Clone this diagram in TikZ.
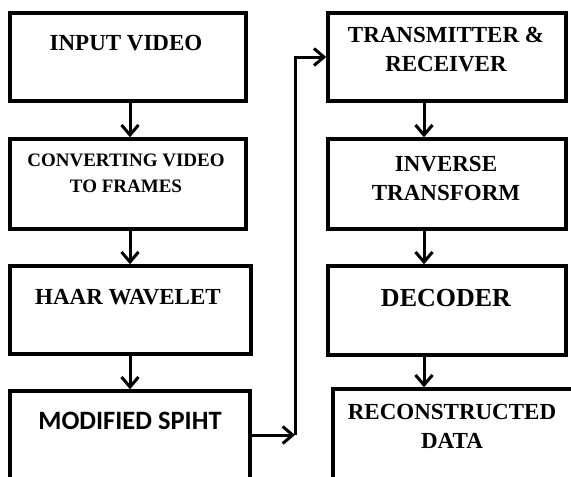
\documentclass[tikz,border=0pt]{standalone}
\usepackage{fontspec}
\setmainfont{Liberation Serif}
\newfontfamily\calfont{Carlito}
\usetikzlibrary{arrows.meta}
\begin{document}
\begin{tikzpicture}[x=1pt,y=-1pt,
  box/.style={draw, line width=3.4pt, inner sep=0pt},
  lbl/.style={font=\bfseries\fontsize{23}{29}\selectfont, align=center, inner sep=0pt},
  flow/.style={line width=3pt, -{Straight Barb[length=10pt,width=17pt]}}]
\useasboundingbox (0,0) rectangle (571,477);
\fill[white] (0,0) rectangle (571,477);
\clip (0,0) rectangle (571,477);

% left column: encoder side
\node[box, minimum width=236pt, minimum height=88pt] (b1) at (128,57) {};
\node[box, minimum width=236pt, minimum height=90pt] (b2) at (128,184) {};
\node[box, minimum width=241pt, minimum height=88pt] (b3) at (130.5,310) {};
\node[box, minimum width=240pt, minimum height=128pt] (b4) at (130,455) {};

\node[lbl] (b1t) at (126,43) {INPUT VIDEO};
\node[lbl, font=\bfseries\fontsize{19}{26}\selectfont] (b2t) at (126,173) {CONVERTING VIDEO\\TO FRAMES};
\node[lbl] (b3t) at (128,297) {HAAR WAVELET};
\node[lbl, font=\calfont\bfseries\fontsize{26.5}{30}\selectfont] (b4t) at (130,421) {MODIFIED SPIHT};

% right column: decoder side
\node[box, minimum width=238pt, minimum height=88pt] (t1) at (447,57) {};
\node[box, minimum width=238pt, minimum height=90pt] (t2) at (447,184) {};
\node[box, minimum width=238pt, minimum height=89pt] (t3) at (447,310.5) {};
\node[box, minimum width=267pt, minimum height=131pt] (t4) at (466.5,454.5) {};

\node[lbl] (t1t) at (446,49.5) {TRANSMITTER \&\\RECEIVER};
\node[lbl] (t2t) at (446,178.5) {INVERSE\\TRANSFORM};
\node[lbl, font=\bfseries\fontsize{26}{30}\selectfont] (t3t) at (446,298) {DECODER};
\node[lbl] (t4t) at (452,426.5) {RECONSTRUCTED\\DATA};

% connectors
\coordinate (la) at (130,0);
\coordinate (ra) at (424,0);
\coordinate (j) at (295,435);
\draw[flow] (b1.south -| la) -- (b2.north -| la);
\draw[flow] (b2.south -| la) -- (b3.north -| la);
\draw[flow] (b3.south -| la) -- (b4.north -| la);
\draw[flow] (t1.south -| ra) -- (t2.north -| ra);
\draw[flow] (t2.south -| ra) -- (t3.north -| ra);
\draw[flow] (t3.south -| ra) -- (t4.north -| ra);
\draw[flow] (b4.east |- j) -- (j);
\draw[flow] (j) |- (t1.west);
\end{tikzpicture}
\end{document}
